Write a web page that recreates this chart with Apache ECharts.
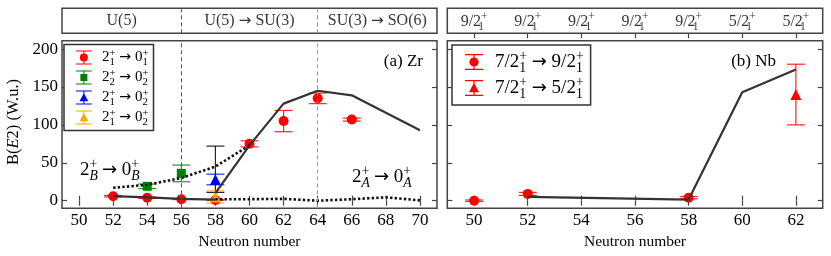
<!DOCTYPE html>
<html><head><meta charset="utf-8">
<script src="https://cdn.jsdelivr.net/npm/echarts@6/dist/echarts.min.js"></script>
<style>html,body{margin:0;padding:0;background:#fff}#c{width:831px;height:256px}</style>
</head><body><div id="c"></div>
<script>
const FONT = '"Liberation Serif", "DejaVu Serif", serif';
const ARROW_FONT = '"DejaVu Sans", sans-serif';

// ---------- (a) Zr ----------
const zrTicks = [50, 52, 54, 56, 58, 60, 62, 64, 66, 68, 70];
const yTicks = [0, 50, 100, 150, 200];
const zrRegionBounds = [49, 56, 64, 71];
const zrRegionLabels = [['U(5)'], ['U(5)', 'SU(3)'], ['SU(3)', 'SO(6)']];
const zrDividers = [56, 64];

// 2_1+ -> 0_1+
const zrA_N = [52, 54, 56, 58, 60, 62, 64, 66];
const zrA_B = [6, 4, 2, 1, 75, 105, 135, 107];
const zrA_E = [1, 1, 0.5, 0.5, 4, 14, 7, 2];
// 2_2+ -> 0_2+
const zrB_N = [54, 56];
const zrB_B = [19, 36];
const zrB_E = [3, 11];
// 2_1+ -> 0_2+ (blue)
const zrC_N = [58];
const zrC_B = [28];
const zrC_E = [7];
// 2_1+ -> 0_2+ (orange)
const zrD_N = [58];
const zrD_B = [5];
const zrD_E = [8];
// extra black error bar
const zrK_N = [58];
const zrK_B = [41.5];
const zrK_E = [30.5];

// theory lines
const zrSolid1_N = [52, 54, 56, 58];
const zrSolid1_B = [6, 4.5, 2.5, 1.5];
const zrSolid2_N = [58, 60, 62, 64, 66, 68, 70];
const zrSolid2_B = [10, 73, 128, 145, 139, 116, 93];
const zrDotB_N = [52, 54, 56, 58, 60];
const zrDotB_B = [17, 21, 30, 45, 73];
const zrDotA_N = [58, 60, 62, 64, 66, 68, 70];
const zrDotA_B = [2, 2, 2.5, 0, 2, 4.5, 0.5];

// ---------- (b) Nb ----------
const nbTicks = [50, 52, 54, 56, 58, 60, 62];
const nbTopLabels = ['9/2', '9/2', '9/2', '9/2', '9/2', '5/2', '5/2'];
const nbA_N = [50, 52, 58];
const nbA_B = [0, 9, 4];
const nbA_E = [1, 2, 1.5];
const nbB_N = [62];
const nbB_B = [140];
const nbB_E = [40];
const nbTh_N = [52, 58, 60, 62];
const nbTh_B = [5, 1.5, 143, 173];

// legend texts: [initial J, sub, final J, sub]
const zrLegend = [['2','1','0','1'], ['2','2','0','2'], ['2','1','0','2'], ['2','1','0','2']];
const nbLegend = [['7/2','1','9/2','1'], ['7/2','1','5/2','1']];

function rich(S) {
  const s = Math.round(S * 0.72 * 10) / 10;
  const lh = Math.round(S * 1.35);
  return {
    b: {fontFamily: FONT, fontSize: S, lineHeight: lh, color: '#000'},
    i: {fontFamily: FONT, fontSize: S, fontStyle: 'italic', lineHeight: lh, color: '#000'},
    ar: {fontFamily: ARROW_FONT, fontSize: S * 0.95, lineHeight: lh, color: '#000'},
    sp: {fontFamily: FONT, fontSize: s, verticalAlign: 'top', lineHeight: s, color: '#000'},
    sb: {fontFamily: FONT, fontSize: s, verticalAlign: 'bottom', lineHeight: s, width: 0, color: '#000'},
    sbi: {fontFamily: FONT, fontSize: s, fontStyle: 'italic', verticalAlign: 'bottom', lineHeight: s, width: 0, color: '#000'}
  };
}
const ARROW = '{b|\u00a0}{ar|→}{b|\u00a0}';
function trans(t) {
  return '{b|' + t[0] + '}{sb|' + t[1] + '}{sp|+}' + ARROW + '{b|' + t[2] + '}{sb|' + t[3] + '}{sp|+}';
}
function transI(a, sa, b, sbb) {
  return '{b|' + a + '}{sbi|' + sa + '}{sp|+}' + ARROW + '{b|' + b + '}{sbi|' + sbb + '}{sp|+}';
}

const pts = (xs, ys) => xs.map((x, i) => [x, ys[i]]);

function errSeries(name, xs, ys, es, color, xi, yi, capHalf) {
  return {
    type: 'custom', name, xAxisIndex: xi, yAxisIndex: yi, silent: true, z: 2,
    data: xs.map((x, i) => [x, ys[i], es[i]]),
    encode: {x: 0, y: 1},
    renderItem(params, api) {
      const x = api.value(0), y = api.value(1), e = api.value(2);
      const t = api.coord([x, y + e]), b = api.coord([x, y - e]);
      const st = {stroke: color, lineWidth: 1.2, opacity: 0.85};
      return {type: 'group', children: [
        {type: 'line', shape: {x1: t[0], y1: t[1], x2: b[0], y2: b[1]}, style: st},
        {type: 'line', shape: {x1: t[0] - capHalf, y1: t[1], x2: t[0] + capHalf, y2: t[1]}, style: st},
        {type: 'line', shape: {x1: b[0] - capHalf, y1: b[1], x2: b[0] + capHalf, y2: b[1]}, style: st}
      ]};
    }
  };
}
function scat(name, xs, ys, color, symbol, size, xi, yi) {
  return {type: 'scatter', name, xAxisIndex: xi, yAxisIndex: yi, data: pts(xs, ys),
    symbol, symbolSize: size, itemStyle: {color, opacity: 1}, z: 3, silent: true};
}
function line(name, xs, ys, dotted, xi, yi) {
  return {type: 'line', name, xAxisIndex: xi, yAxisIndex: yi, data: pts(xs, ys),
    showSymbol: false, symbol: 'none', silent: true, z: 4,
    lineStyle: dotted ? {color: '#111', width: 2.6, type: [2.4, 2.2]} : {color: '#333', width: 2.2}};
}

const cap = 'M1 0H19V1.2H1Z M1 14.8H19V16H1Z M9.4 0H10.6V16H9.4Z ';
const ICON_CIRCLE = 'path://' + cap + 'M14.6 8A4.6 4.6 0 1 1 5.4 8A4.6 4.6 0 1 1 14.6 8Z';
const ICON_SQUARE = 'path://' + cap + 'M6 4H14V12H6Z';
const ICON_TRI = 'path://' + cap + 'M10 2.8L15 12.2H5Z';

const tickStyle = {lineStyle: {color: '#444', width: 1.2}};
const BORDER = '#444';

function valAxis(gi, pos, min, max, ticks, labels, extra) {
  return Object.assign({
    type: 'value', gridIndex: gi, position: pos, min, max,
    splitLine: {show: false}, axisLine: {show: false},
    axisTick: Object.assign({show: true, inside: true, length: 5, customValues: ticks}, tickStyle),
    axisLabel: labels ? {show: true, customValues: ticks, fontFamily: FONT, fontSize: 17, color: '#000', margin: 4} : {show: false}
  }, extra || {});
}

const option = {
  animation: false,
  backgroundColor: '#fff',
  grid: [
    {left: 62, top: 40.7, width: 375, height: 167.6, show: true, borderColor: BORDER, borderWidth: 1.5},
    {left: 447.3, top: 40.7, width: 375.4, height: 167.6, show: true, borderColor: BORDER, borderWidth: 1.5},
    {left: 62, top: 8.3, width: 375, height: 25, show: true, borderColor: BORDER, borderWidth: 1.5},
    {left: 447.3, top: 8.3, width: 375.4, height: 25, show: true, borderColor: BORDER, borderWidth: 1.5}
  ],
  xAxis: [
    valAxis(0, 'bottom', 49, 71, zrTicks, true, {name: 'Neutron number', nameLocation: 'middle', nameGap: 23,
      nameTextStyle: {fontFamily: FONT, fontSize: 15.5, color: '#000'}}),
    valAxis(0, 'top', 49, 71, zrTicks, false),
    valAxis(1, 'bottom', 49, 63, nbTicks, true, {name: 'Neutron number', nameLocation: 'middle', nameGap: 23,
      nameTextStyle: {fontFamily: FONT, fontSize: 15.5, color: '#000'}}),
    valAxis(1, 'top', 49, 63, nbTicks, false),
    {type: 'value', gridIndex: 2, min: 49, max: 71, show: false},
    valAxis(3, 'top', 49, 63, nbTicks, false)
  ],
  yAxis: [
    valAxis(0, 'left', -10, 211, yTicks, true),
    valAxis(0, 'right', -10, 211, yTicks, false),
    valAxis(1, 'left', -10, 211, yTicks, false),
    valAxis(1, 'right', -10, 211, yTicks, false),
    {type: 'value', gridIndex: 2, min: 0, max: 1, show: false},
    {type: 'value', gridIndex: 3, min: 0, max: 1, show: false}
  ],
  legend: [
    {
      show: true, orient: 'vertical', left: 64, top: 44.5, selectedMode: false,
      padding: [3, 5, 3, 12], itemGap: 0, itemWidth: 18, itemHeight: 14,
      backgroundColor: '#fff', borderColor: '#333', borderWidth: 1.5, borderRadius: 0,
      data: [
        {name: 'zrA', icon: ICON_CIRCLE},
        {name: 'zrB', icon: ICON_SQUARE},
        {name: 'zrC', icon: ICON_TRI},
        {name: 'zrD', icon: ICON_TRI}
      ],
      formatter: n => trans(zrLegend[['zrA', 'zrB', 'zrC', 'zrD'].indexOf(n)]),
      textStyle: {rich: rich(15), padding: [0, 0, 0, 4]}
    },
    {
      show: true, orient: 'vertical', left: 452, top: 45, selectedMode: false,
      padding: [4, 7, 4, 13], itemGap: 0, itemWidth: 20, itemHeight: 16,
      backgroundColor: '#fff', borderColor: '#333', borderWidth: 1.5, borderRadius: 0,
      data: [
        {name: 'nbA', icon: ICON_CIRCLE},
        {name: 'nbB', icon: ICON_TRI}
      ],
      formatter: n => trans(nbLegend[['nbA', 'nbB'].indexOf(n)]),
      textStyle: {rich: rich(19), padding: [0, 0, 0, 6]}
    }
  ],
  graphic: [
    {type: 'text', x: 14, y: 122, rotation: Math.PI / 2, z: 10,
      style: {text: '{b|B(}{i|E}{b|2) (W.u.)}', rich: rich(16.5), align: 'center', verticalAlign: 'middle'}},
    {type: 'text', x: 423, y: 61.5, z: 10,
      style: {text: '{b|(a) Zr}', rich: rich(17), align: 'right', verticalAlign: 'middle'}},
    {type: 'text', x: 776, y: 62, z: 10,
      style: {text: '{b|(b) Nb}', rich: rich(17), align: 'right', verticalAlign: 'middle'}},
    {type: 'text', x: 80, y: 170, z: 10,
      style: {text: transI('2', 'B', '0', 'B'), rich: rich(19), align: 'left', verticalAlign: 'middle'}},
    {type: 'text', x: 352, y: 177.5, z: 10,
      style: {text: transI('2', 'A', '0', 'A'), rich: rich(19), align: 'left', verticalAlign: 'middle'}}
  ],
  series: [
    // error bars
    errSeries('zrAe', zrA_N, zrA_B, zrA_E, '#ff0000', 0, 0, 9),
    errSeries('zrBe', zrB_N, zrB_B, zrB_E, '#008000', 0, 0, 9),
    errSeries('zrKe', zrK_N, zrK_B, zrK_E, '#000000', 0, 0, 9),
    errSeries('zrCe', zrC_N, zrC_B, zrC_E, '#0000ff', 0, 0, 9),
    errSeries('zrDe', zrD_N, zrD_B, zrD_E, '#ffa500', 0, 0, 9),
    errSeries('nbAe', nbA_N, nbA_B, nbA_E, '#ff0000', 2, 2, 9),
    errSeries('nbBe', nbB_N, nbB_B, nbB_E, '#ff0000', 2, 2, 9),
    // markers
    scat('zrA', zrA_N, zrA_B, '#ff0000', 'circle', 10, 0, 0),
    scat('zrB', zrB_N, zrB_B, '#008000', 'rect', 9, 0, 0),
    scat('zrC', zrC_N, zrC_B, '#0000ff', 'triangle', 11, 0, 0),
    scat('zrD', zrD_N, zrD_B, '#ffa500', 'triangle', 11, 0, 0),
    scat('nbA', nbA_N, nbA_B, '#ff0000', 'circle', 10, 2, 2),
    scat('nbB', nbB_N, nbB_B, '#ff0000', 'triangle', 11, 2, 2),
    // theory lines
    Object.assign(line('zrS1', zrSolid1_N, zrSolid1_B, false, 0, 0), {
      markLine: {silent: true, symbol: 'none', label: {show: false},
        data: zrDividers.map((v, i) => ({xAxis: v, lineStyle: {color: i === 0 ? '#555' : '#999', width: 1, type: [4, 3]}}))}
    }),
    line('zrS2', zrSolid2_N, zrSolid2_B, false, 0, 0),
    line('zrDB', zrDotB_N, zrDotB_B, true, 0, 0),
    line('zrDA', zrDotA_N, zrDotA_B, true, 0, 0),
    line('nbS', nbTh_N, nbTh_B, false, 2, 2),
    // top bar (a)
    {
      type: 'scatter', name: 'zrTop', xAxisIndex: 4, yAxisIndex: 4, silent: true,
      symbolSize: 1, itemStyle: {color: 'rgba(0,0,0,0)'},
      data: zrRegionLabels.map((t, i) => [(zrRegionBounds[i] + zrRegionBounds[i + 1]) / 2, 0.5]),
      label: {show: true, position: 'inside', rich: rich(16),
        formatter: p => zrRegionLabels[p.dataIndex].map(s => '{b|' + s + '}').join(ARROW)},
      markLine: {silent: true, symbol: 'none', label: {show: false},
        data: zrDividers.map((v, i) => ({xAxis: v, lineStyle: {color: i === 0 ? '#555' : '#999', width: 1, type: [4, 3]}}))}
    },
    // top bar (b)
    {
      type: 'scatter', name: 'nbTop', xAxisIndex: 5, yAxisIndex: 5, silent: true,
      symbolSize: 1, itemStyle: {color: 'rgba(0,0,0,0)'},
      data: nbTicks.map(x => [x, 0.45]),
      label: {show: true, position: 'inside', rich: rich(16),
        formatter: p => '{b|' + nbTopLabels[p.dataIndex] + '}{sb|1}{sp|+}'}
    }
  ]
};

const chart = echarts.init(document.getElementById('c'));
chart.setOption(option);
</script>
</body></html>
